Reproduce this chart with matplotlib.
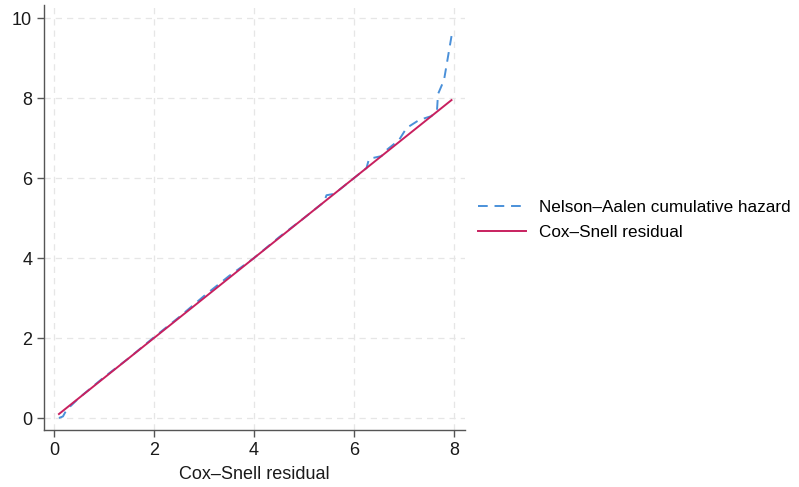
import matplotlib.pyplot as plt

plt.rcParams['font.family'] = ['Liberation Sans', 'DejaVu Sans']

# Nelson-Aalen cumulative hazard evaluated at the Cox-Snell residuals
na_x = [0.10, 0.18, 0.25, 0.50, 1.00, 1.50, 2.00, 2.50, 3.00, 3.50, 4.00,
        4.50, 5.00, 5.40, 5.45, 5.58, 5.65, 6.00, 6.25, 6.30, 6.55, 6.65,
        6.90, 7.05, 7.30, 7.55, 7.66, 7.68, 7.80, 7.95]
na_y = [0.00, 0.04, 0.20, 0.50, 1.02, 1.50, 2.02, 2.52, 3.05, 3.55, 4.00,
        4.52, 5.00, 5.40, 5.57, 5.60, 5.65, 6.00, 6.25, 6.48, 6.55, 6.70,
        6.95, 7.25, 7.45, 7.55, 7.70, 8.10, 8.45, 9.55]

# reference line: cumulative hazard equal to the residual
cs_x = [0.10, 7.95]
cs_y = [0.10, 7.95]

x_ticks = [0, 2, 4, 6, 8]
y_ticks = [0, 2, 4, 6, 8, 10]

fig = plt.figure(figsize=(7.99, 4.87), dpi=100)
ax = fig.add_axes([0.055, 0.117, 0.527, 0.873])

ax.plot(na_x, na_y, color='#4a90d9', lw=1.4, ls=(0, (5, 3.5)),
        label='Nelson\u2013Aalen cumulative hazard')
ax.plot(cs_x, cs_y, color='#c8205f', lw=1.4, label='Cox\u2013Snell residual')

ax.set_xlim(-0.2, 8.22)
ax.set_ylim(-0.3, 10.33)
ax.set_xticks(x_ticks)
ax.set_yticks(y_ticks)
ax.grid(True, color='#e6e6e6', ls=(0, (5, 4)), lw=0.9)
ax.set_axisbelow(True)

for side in ['top', 'right']:
    ax.spines[side].set_visible(False)
for side in ['left', 'bottom']:
    ax.spines[side].set_color('#555555')
    ax.spines[side].set_linewidth(1.0)
ax.tick_params(colors='#555555', labelcolor='#1a1a1a', labelsize=13,
               length=5, width=1.0)

ax.set_xlabel('Cox\u2013Snell residual', fontsize=13, color='#1a1a1a', labelpad=5)

ax.legend(loc='center left', bbox_to_anchor=(0.995, 0.494), frameon=False,
          fontsize=12.3, handlelength=2.8, handletextpad=0.75, labelspacing=0.55)

fig.savefig('out.png', dpi=100)
